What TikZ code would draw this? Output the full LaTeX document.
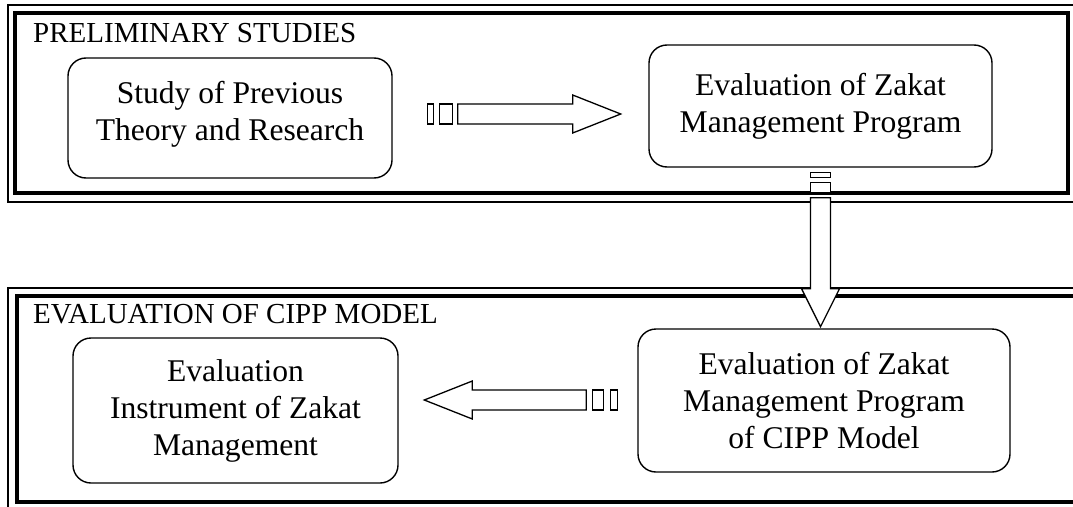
\documentclass[tikz,border=0pt]{standalone}
\usepackage{fontspec}
\setmainfont{Liberation Serif}
\begin{document}
\begin{tikzpicture}[x=1pt,y=-1pt,
  outerframe/.style={line width=2.8pt,line join=miter},
  innerframe/.style={line width=4.5pt,line join=miter},
  box/.style={draw,line width=1.4pt,rounded corners=18pt,align=center,inner sep=0pt,
    font=\fontsize{31.6}{37}\selectfont},
  title/.style={anchor=base west,inner sep=0pt,font=\fontsize{29}{33}\selectfont},
  arrowline/.style={draw,line width=1.3pt,fill=white,line join=miter},
  pics/sarrow/.style n args={6}{code={
    \path[arrowline] (0,-10) rectangle (#3,10);
    \path[arrowline] (#4,-10) rectangle (#5,10);
    \path[arrowline] (#6,-10) -- ({#1-#2},-10) -- ({#1-#2},-19) -- (#1,0)
      -- ({#1-#2},19) -- ({#1-#2},10) -- (#6,10) -- cycle;
  }}
]
\useasboundingbox (0,0) rectangle (1073,506);
\clip (0,0) rectangle (1073,506);
\fill[white] (0,0) rectangle (1073,506);

% frames
\draw[outerframe] (1090,5) -| (8,202) -- (1090,202);
\draw[innerframe] (15,13) rectangle (1068,193);
\draw[outerframe] (1090,288) -| (8,520);
\draw[innerframe] (1090,296) -| (17,502) -- (1090,502);

% titles
\node[title] (t1) at (33,42) {PRELIMINARY STUDIES};
\node[title] (t2) at (33,323) {EVALUATION OF CIPP MODEL};

% boxes
\node[box,minimum width=324pt,minimum height=120pt] (study) at (230,118)
  {Study of Previous\\Theory and Research\rule[-14pt]{0pt}{1pt}};
\node[box,minimum width=343pt,minimum height=122pt] (evalzp) at (820.5,106)
  {Evaluation of Zakat\\Management Program};
\node[box,minimum width=372pt,minimum height=143pt] (cipp) at (824,400.5)
  {Evaluation of Zakat\\Management Program\\of CIPP Model};
\node[box,minimum width=325pt,minimum height=145pt] (instr) at (235.5,410.5)
  {Evaluation\\Instrument of Zakat\\Management};

% connectors (striped block arrows)
\coordinate (a1) at ([xshift=35pt]study.east |- 0,114);
\coordinate (a2) at ([yshift=-5pt]evalzp.south);
\coordinate (a3) at ([xshift=-20pt]cipp.west |- 0,400);
\pic at (a1) {sarrow={193}{48}{6}{12}{25}{30}};
\pic[rotate=-90] at (a2) {sarrow={154}{38}{5}{10}{20}{25}};
\pic[rotate=180] at (a3) {sarrow={193}{48}{7}{14}{25}{31}};
\end{tikzpicture}
\end{document}
